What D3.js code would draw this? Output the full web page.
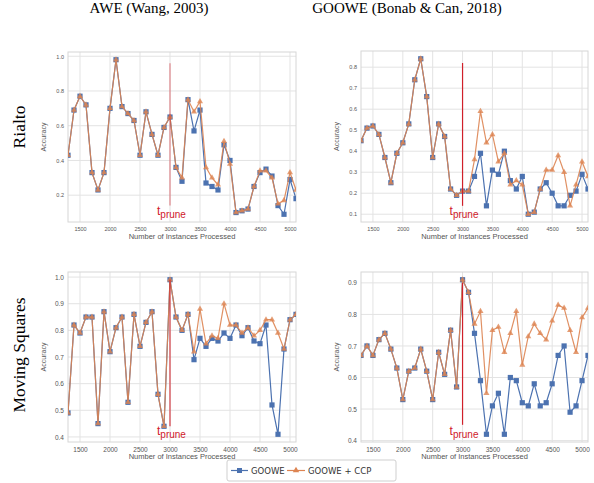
<!DOCTYPE html>
<html>
<head>
<meta charset="utf-8">
<script src="https://cdn.jsdelivr.net/npm/d3@7"></script>
<style>
  body { margin: 0; background: #fff; }
  svg { display: block; }
</style>
</head>
<body>
<div id="chart"></div>
<script>
// instances processed (x categories)
const instances = [1300, 1400, 1500, 1600, 1700, 1800, 1900, 2000, 2100, 2200,
  2300, 2400, 2500, 2600, 2700, 2800, 2900, 3000, 3100, 3200,
  3300, 3400, 3500, 3600, 3700, 3800, 3900, 4000, 4100, 4200,
  4300, 4400, 4500, 4600, 4700, 4800, 4900, 5000, 5100];
const xTicks = [1500, 2000, 2500, 3000, 3500, 4000, 4500, 5000];

// Rialto, AWE
const rialtoAwe = [0.43, 0.69, 0.77, 0.72, 0.33, 0.23, 0.33, 0.70, 0.98, 0.71,
  0.67, 0.63, 0.43, 0.68, 0.55, 0.43, 0.59, 0.65, 0.36, 0.28,
  0.75, 0.57, 0.69, 0.27, 0.25, 0.23, 0.49, 0.40, 0.10, 0.11,
  0.12, 0.25, 0.33, 0.35, 0.31, 0.14, 0.09, 0.29, 0.18];
const rialtoAweCcp = [0.43, 0.69, 0.77, 0.72, 0.33, 0.23, 0.33, 0.70, 0.98, 0.71,
  0.67, 0.63, 0.43, 0.68, 0.55, 0.43, 0.59, 0.65, 0.36, 0.30,
  0.75, 0.68, 0.74, 0.36, 0.30, 0.26, 0.51, 0.38, 0.10, 0.11,
  0.12, 0.25, 0.34, 0.34, 0.30, 0.15, 0.17, 0.33, 0.23];

// Rialto, GOOWE
const rialtoGoowe = [0.45, 0.51, 0.52, 0.48, 0.37, 0.25, 0.39, 0.44, 0.53, 0.74,
  0.84, 0.66, 0.37, 0.53, 0.47, 0.22, 0.19, 0.21, 0.21, 0.28,
  0.39, 0.14, 0.31, 0.29, 0.40, 0.26, 0.22, 0.28, 0.10, 0.11,
  0.22, 0.25, 0.20, 0.14, 0.14, 0.19, 0.21, 0.29, 0.22];
const rialtoGooweCcp = [0.45, 0.51, 0.52, 0.48, 0.37, 0.25, 0.39, 0.44, 0.53, 0.74,
  0.84, 0.66, 0.37, 0.53, 0.47, 0.22, 0.19, 0.21, 0.21, 0.36,
  0.59, 0.44, 0.48, 0.35, 0.39, 0.24, 0.26, 0.24, 0.10, 0.11,
  0.22, 0.31, 0.31, 0.38, 0.30, 0.14, 0.24, 0.35, 0.28];

// Moving Squares, AWE
const movingAwe = [0.49, 0.82, 0.79, 0.85, 0.85, 0.45, 0.87, 0.72, 0.81, 0.85,
  0.53, 0.86, 0.74, 0.83, 0.87, 0.56, 0.44, 0.99, 0.85, 0.80,
  0.86, 0.69, 0.77, 0.74, 0.77, 0.76, 0.79, 0.77, 0.82, 0.78,
  0.81, 0.76, 0.75, 0.82, 0.52, 0.41, 0.73, 0.84, 0.86];
const movingAweCcp = [0.49, 0.82, 0.79, 0.85, 0.85, 0.45, 0.87, 0.72, 0.81, 0.85,
  0.53, 0.86, 0.74, 0.83, 0.87, 0.56, 0.44, 0.99, 0.85, 0.80,
  0.86, 0.72, 0.88, 0.75, 0.78, 0.77, 0.90, 0.82, 0.82, 0.79,
  0.81, 0.78, 0.80, 0.84, 0.84, 0.79, 0.73, 0.84, 0.86];

// Moving Squares, GOOWE
const movingGoowe = [0.67, 0.70, 0.67, 0.72, 0.74, 0.69, 0.63, 0.53, 0.62, 0.63,
  0.69, 0.62, 0.53, 0.68, 0.61, 0.75, 0.57, 0.91, 0.87, 0.74,
  0.59, 0.42, 0.51, 0.55, 0.42, 0.60, 0.59, 0.52, 0.51, 0.58,
  0.51, 0.52, 0.58, 0.67, 0.70, 0.49, 0.51, 0.59, 0.67];
const movingGooweCcp = [0.67, 0.70, 0.67, 0.72, 0.74, 0.69, 0.63, 0.53, 0.62, 0.63,
  0.69, 0.62, 0.53, 0.68, 0.61, 0.75, 0.57, 0.91, 0.87, 0.77,
  0.81, 0.55, 0.75, 0.76, 0.68, 0.74, 0.81, 0.64, 0.73, 0.77,
  0.74, 0.72, 0.78, 0.83, 0.82, 0.75, 0.68, 0.79, 0.82];

const seriesNames = ["GOOWE", "GOOWE + CCP"];
const colTitles = ["AWE (Wang, 2003)", "GOOWE (Bonab & Can, 2018)"];
const rowTitles = ["Rialto", "Moving Squares"];
const pruneAt = 3000;

const W = 594, H = 483;
const blue = "#4c72b0", orange = "#dd8452", red = "#d0202a";

const svg = d3.select("#chart").append("svg")
  .attr("width", W).attr("height", H);
svg.append("rect").attr("width", W).attr("height", H).attr("fill", "#fff");

const panels = [
  { x: 68, y: 52, w: 228, h: 170, a: rialtoAwe, b: rialtoAweCcp,
    yTicks: [0.2, 0.4, 0.6, 0.8, 1.0], prune: [0.14, 0.96], tick: 5.5, pruneOp: 0.5 },
  { x: 361, y: 51, w: 227, h: 171, a: rialtoGoowe, b: rialtoGooweCcp,
    yTicks: [0.1, 0.2, 0.3, 0.4, 0.5, 0.6, 0.7, 0.8], prune: [0.14, 0.82], tick: 5.5, pruneOp: 1 },
  { x: 68, y: 272, w: 228, h: 170, a: movingAwe, b: movingAweCcp,
    yTicks: [0.4, 0.5, 0.6, 0.7, 0.8, 0.9, 1.0], prune: [0.44, 0.99], tick: 6.5, pruneOp: 0.85 },
  { x: 361, y: 272, w: 227, h: 170, a: movingGoowe, b: movingGooweCcp,
    yTicks: [0.4, 0.5, 0.6, 0.7, 0.8, 0.9], prune: [0.45, 0.90], tick: 6.5, pruneOp: 1 }
];

function drawPanel(p) {
  const g = svg.append("g").attr("transform", `translate(${p.x},${p.y})`);

  const x = d3.scaleLinear().domain([1300, 5100]).range([0, p.w]);
  const all = p.a.concat(p.b);
  const lo = d3.min(all), hi = d3.max(all), pad = (hi - lo) * 0.05;
  const y = d3.scaleLinear().domain([lo - pad, hi + pad]).range([p.h, 0]);

  // grid
  g.append("g").selectAll("line").data(p.yTicks).enter().append("line")
    .attr("x1", 0).attr("x2", p.w)
    .attr("y1", d => y(d)).attr("y2", d => y(d))
    .attr("stroke", "#e3e3e3").attr("stroke-width", 1);
  g.append("g").selectAll("line").data(xTicks).enter().append("line")
    .attr("y1", 0).attr("y2", p.h)
    .attr("x1", d => x(d)).attr("x2", d => x(d))
    .attr("stroke", "#e3e3e3").attr("stroke-width", 1);

  // axes (labels only, seaborn whitegrid style)
  const xa = g.append("g").attr("transform", `translate(0,${p.h})`)
    .call(d3.axisBottom(x).tickValues(xTicks).tickSize(0).tickPadding(5).tickFormat(d3.format("d")));
  const ya = g.append("g")
    .call(d3.axisLeft(y).tickValues(p.yTicks).tickSize(0).tickPadding(4).tickFormat(d3.format(".1f")));
  [xa, ya].forEach(a => {
    a.select(".domain").remove();
    a.selectAll("text").attr("fill", "#555")
      .style("font-family", "Liberation Sans, Arial, sans-serif").style("font-size", p.tick + "px");
  });

  g.append("rect").attr("width", p.w).attr("height", p.h)
    .attr("fill", "none").attr("stroke", "#d6d6d6").attr("stroke-width", 1);

  g.append("text")
    .attr("transform", `translate(-22,${p.h / 2}) rotate(-90)`)
    .attr("text-anchor", "middle").attr("fill", "#555")
    .style("font-family", "Liberation Sans, Arial, sans-serif").style("font-size", "7px")
    .text("Accuracy");
  g.append("text")
    .attr("x", p.w / 2).attr("y", p.h + 17)
    .attr("text-anchor", "middle").attr("fill", "#555")
    .style("font-family", "Liberation Sans, Arial, sans-serif").style("font-size", "7.5px")
    .text("Number of Instances Processed");

  // clip so the edge markers are cut like the original
  const clipId = "clip" + p.x + "_" + p.y;
  g.append("clipPath").attr("id", clipId).append("rect")
    .attr("width", p.w).attr("height", p.h);
  const plot = g.append("g").attr("clip-path", `url(#${clipId})`);

  const line = d3.line().x((d, i) => x(instances[i])).y(d => y(d));

  plot.append("path").datum(p.a).attr("d", line)
    .attr("fill", "none").attr("stroke", blue).attr("stroke-width", 1.2);
  plot.append("g").selectAll("rect").data(p.a).enter().append("rect")
    .attr("x", (d, i) => x(instances[i]) - 2.6).attr("y", d => y(d) - 2.6)
    .attr("width", 5.2).attr("height", 5.2).attr("fill", blue);

  const tri = d3.symbol().type(d3.symbolTriangle).size(16);
  plot.append("path").datum(p.b).attr("d", line)
    .attr("fill", "none").attr("stroke", orange).attr("stroke-width", 1.2).attr("opacity", 0.9);
  plot.append("g").selectAll("path").data(p.b).enter().append("path")
    .attr("d", tri)
    .attr("transform", (d, i) => `translate(${x(instances[i])},${y(d)})`)
    .attr("fill", orange).attr("opacity", 0.8);

  // t_prune marker
  g.append("line")
    .attr("x1", x(pruneAt)).attr("x2", x(pruneAt))
    .attr("y1", y(p.prune[0])).attr("y2", y(p.prune[1]))
    .attr("stroke", red).attr("stroke-width", 1.2).attr("opacity", p.pruneOp);
  const t = g.append("text")
    .attr("x", x(pruneAt) - 13).attr("y", p.h - 7)
    .attr("fill", red)
    .style("font-family", "Liberation Sans, Arial, sans-serif");
  t.append("tspan").style("font-size", "12px").text("t");
  t.append("tspan").attr("dy", 3).style("font-size", "10px").text("prune");
}

panels.forEach(drawPanel);

// column and row titles
svg.selectAll(".coltitle").data(colTitles).enter().append("text")
  .attr("x", (d, i) => i === 0 ? 149 : 407).attr("y", 13)
  .attr("text-anchor", "middle")
  .style("font-family", "Liberation Serif, Times New Roman, serif").style("font-size", "15px")
  .text(d => d);
svg.selectAll(".rowtitle").data(rowTitles).enter().append("text")
  .attr("transform", (d, i) => `translate(25,${i === 0 ? 127 : 355}) rotate(-90)`)
  .attr("text-anchor", "middle")
  .style("font-family", "Liberation Serif, Times New Roman, serif").style("font-size", "17.5px")
  .text(d => d);

// legend
const lg = svg.append("g").attr("transform", "translate(227,460)");
lg.append("rect").attr("width", 169).attr("height", 21).attr("rx", 2)
  .attr("fill", "#fff").attr("stroke", "#cfcfcf");
lg.append("line").attr("x1", 4).attr("x2", 21).attr("y1", 10.5).attr("y2", 10.5)
  .attr("stroke", blue).attr("stroke-width", 1.2);
lg.append("rect").attr("x", 10).attr("y", 8).attr("width", 5).attr("height", 5).attr("fill", blue);
lg.append("line").attr("x1", 60).attr("x2", 78).attr("y1", 10.5).attr("y2", 10.5)
  .attr("stroke", orange).attr("stroke-width", 1.2);
lg.append("path").attr("d", d3.symbol().type(d3.symbolTriangle).size(18))
  .attr("transform", "translate(69,10.5)").attr("fill", orange);
lg.selectAll(".lt").data(seriesNames).enter().append("text")
  .attr("x", (d, i) => i === 0 ? 24 : 81).attr("y", 13.5)
  .attr("fill", "#333")
  .style("font-family", "DejaVu Sans, Verdana, sans-serif").style("font-size", "8.5px")
  .text(d => d);
</script>
</body>
</html>
